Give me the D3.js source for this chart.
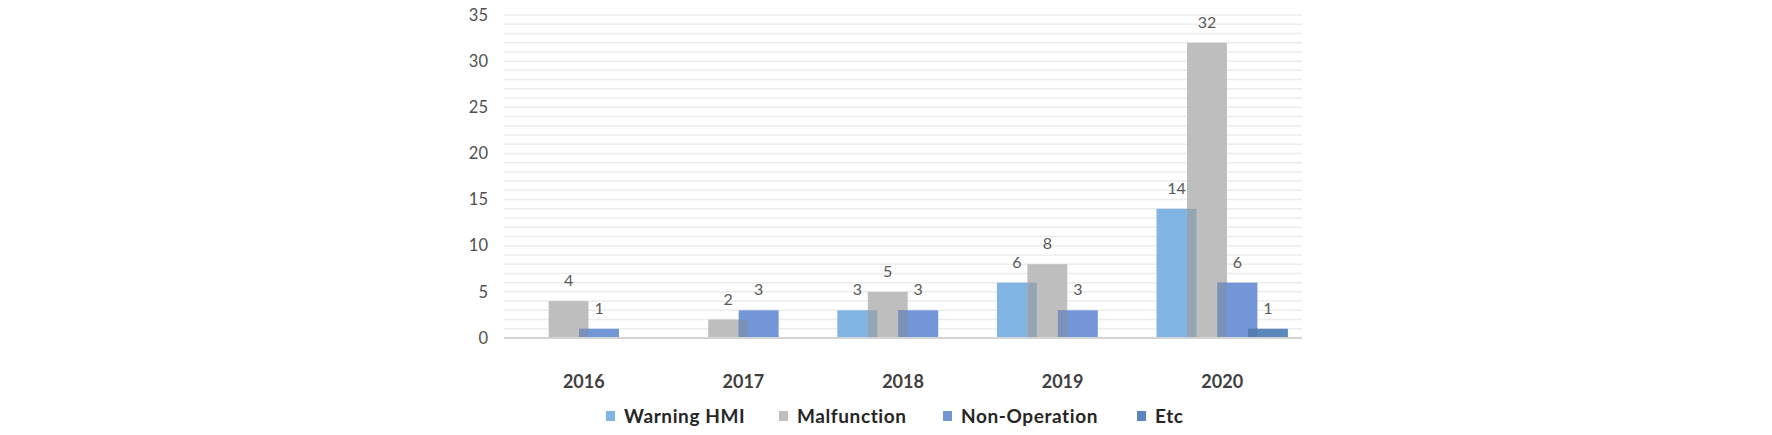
<!DOCTYPE html>
<html>
<head>
<meta charset="utf-8">
<script src="https://cdn.jsdelivr.net/npm/d3@7"></script>
<style>
  html, body { margin: 0; padding: 0; background: #fff; }
  svg { display: block; }
  text { font-family: Lato, "Open Sans", "Liberation Sans", sans-serif; }
</style>
</head>
<body>
<svg id="chart" width="1772" height="435"></svg>
<script>
const years = ["2016", "2017", "2018", "2019", "2020"];
const seriesNames = ["Warning HMI", "Malfunction", "Non-Operation", "Etc"];
const warningHMI = [0, 0, 3, 6, 14];
const malfunction = [4, 2, 5, 8, 32];
const nonOperation = [1, 3, 3, 3, 6];
const etc = [0, 0, 0, 0, 1];
const seriesValues = [warningHMI, malfunction, nonOperation, etc];
const seriesColors = ["#80b4e3", "#bebebe", "#7296d8", "#5b87ba"];
const yTicks = [0, 5, 10, 15, 20, 25, 30, 35];

const svg = d3.select("#chart");
const x = d3.scaleBand().domain(years).range([504, 1302]).padding(0);
const y = d3.scaleLinear().domain([0, 35]).range([338, 15]);

const B = x.bandwidth();
const barW = B * 0.25;
const step = B * 0.191;
const groupW = step * 3 + barW;
const offset0 = (B - groupW) / 2;
const barX = (yi, si) => x(years[yi]) + offset0 + si * step;

// gridlines every unit
svg.append("g").selectAll("line")
  .data(d3.range(1, 36))
  .join("line")
  .attr("x1", x.range()[0]).attr("x2", x.range()[1])
  .attr("y1", d => y(d)).attr("y2", d => y(d))
  .attr("stroke", "#ececec").attr("stroke-width", 1.5);

// y-axis labels
const yAxis = d3.axisLeft(y).tickValues(yTicks).tickSize(0).tickPadding(0);
const yg = svg.append("g").attr("transform", "translate(488,0)").call(yAxis);
yg.select(".domain").remove();
yg.selectAll("text").attr("font-size", 16.5).attr("fill", "#505050")
  .attr("font-family", "Lato, 'Open Sans', sans-serif");

// bars
const barsData = [];
seriesValues.forEach((vals, si) => {
  vals.forEach((v, yi) => barsData.push({ si, yi, v }));
});
const gBars = svg.append("g");
gBars.selectAll("rect.bar")
  .data(barsData.filter(d => d.v > 0))
  .join("rect")
  .attr("class", "bar")
  .attr("x", d => barX(d.yi, d.si))
  .attr("y", d => y(d.v))
  .attr("width", barW)
  .attr("height", d => y(0) - y(d.v))
  .attr("fill", d => seriesColors[d.si]);

// overlap shading where a bar covers the previous one
const overlaps = [];
years.forEach((yr, yi) => {
  for (let si = 1; si < seriesValues.length; si++) {
    const prev = seriesValues[si - 1][yi], cur = seriesValues[si][yi];
    const h = Math.min(prev, cur);
    if (h > 0) overlaps.push({ yi, si, h });
  }
});
gBars.selectAll("rect.ov")
  .data(overlaps)
  .join("rect")
  .attr("class", "ov")
  .attr("x", d => barX(d.yi, d.si))
  .attr("y", d => y(d.h))
  .attr("width", barX(0, 0) + barW - barX(0, 1))
  .attr("height", d => y(0) - y(d.h))
  .attr("fill", d => {
    const c = d3.interpolateRgb(seriesColors[d.si], seriesColors[d.si - 1])(0.35);
    return d3.color(c).darker(0.35);
  });

// x axis line
svg.append("line")
  .attr("x1", x.range()[0]).attr("x2", x.range()[1])
  .attr("y1", y(0)).attr("y2", y(0))
  .attr("stroke", "#d4d4d4").attr("stroke-width", 2);

// data labels
svg.append("g").selectAll("text")
  .data(barsData.filter(d => d.v > 0))
  .join("text")
  .attr("x", d => barX(d.yi, d.si) + barW / 2)
  .attr("y", d => y(d.v) - 15)
  .attr("text-anchor", "middle")
  .attr("font-size", 16)
  .attr("fill", "#595959")
  .text(d => d.v);

// x axis labels
const xAxis = d3.axisBottom(x).tickSize(0).tickPadding(0);
const xg = svg.append("g").attr("transform", "translate(0,388)").call(xAxis);
xg.select(".domain").remove();
xg.selectAll("text").attr("font-size", 18).attr("font-weight", "bold")
  .attr("fill", "#404040").attr("dy", 0)
  .attr("font-family", "Lato, 'Open Sans', sans-serif");

// legend
const legendX = [606, 779, 943, 1137];
const lg = svg.append("g").selectAll("g")
  .data(seriesNames)
  .join("g")
  .attr("transform", (d, i) => `translate(${legendX[i]},416)`);
lg.append("rect").attr("x", 0).attr("y", -5).attr("width", 9).attr("height", 10)
  .attr("fill", (d, i) => seriesColors[i]);
lg.append("text").attr("x", 18).attr("y", 6.5)
  .attr("font-size", 19).attr("font-weight", "bold").attr("fill", "#262626")
  .attr("letter-spacing", 0.6)
  .attr("font-family", "'Open Sans', Lato, sans-serif")
  .text(d => d);
</script>
</body>
</html>
